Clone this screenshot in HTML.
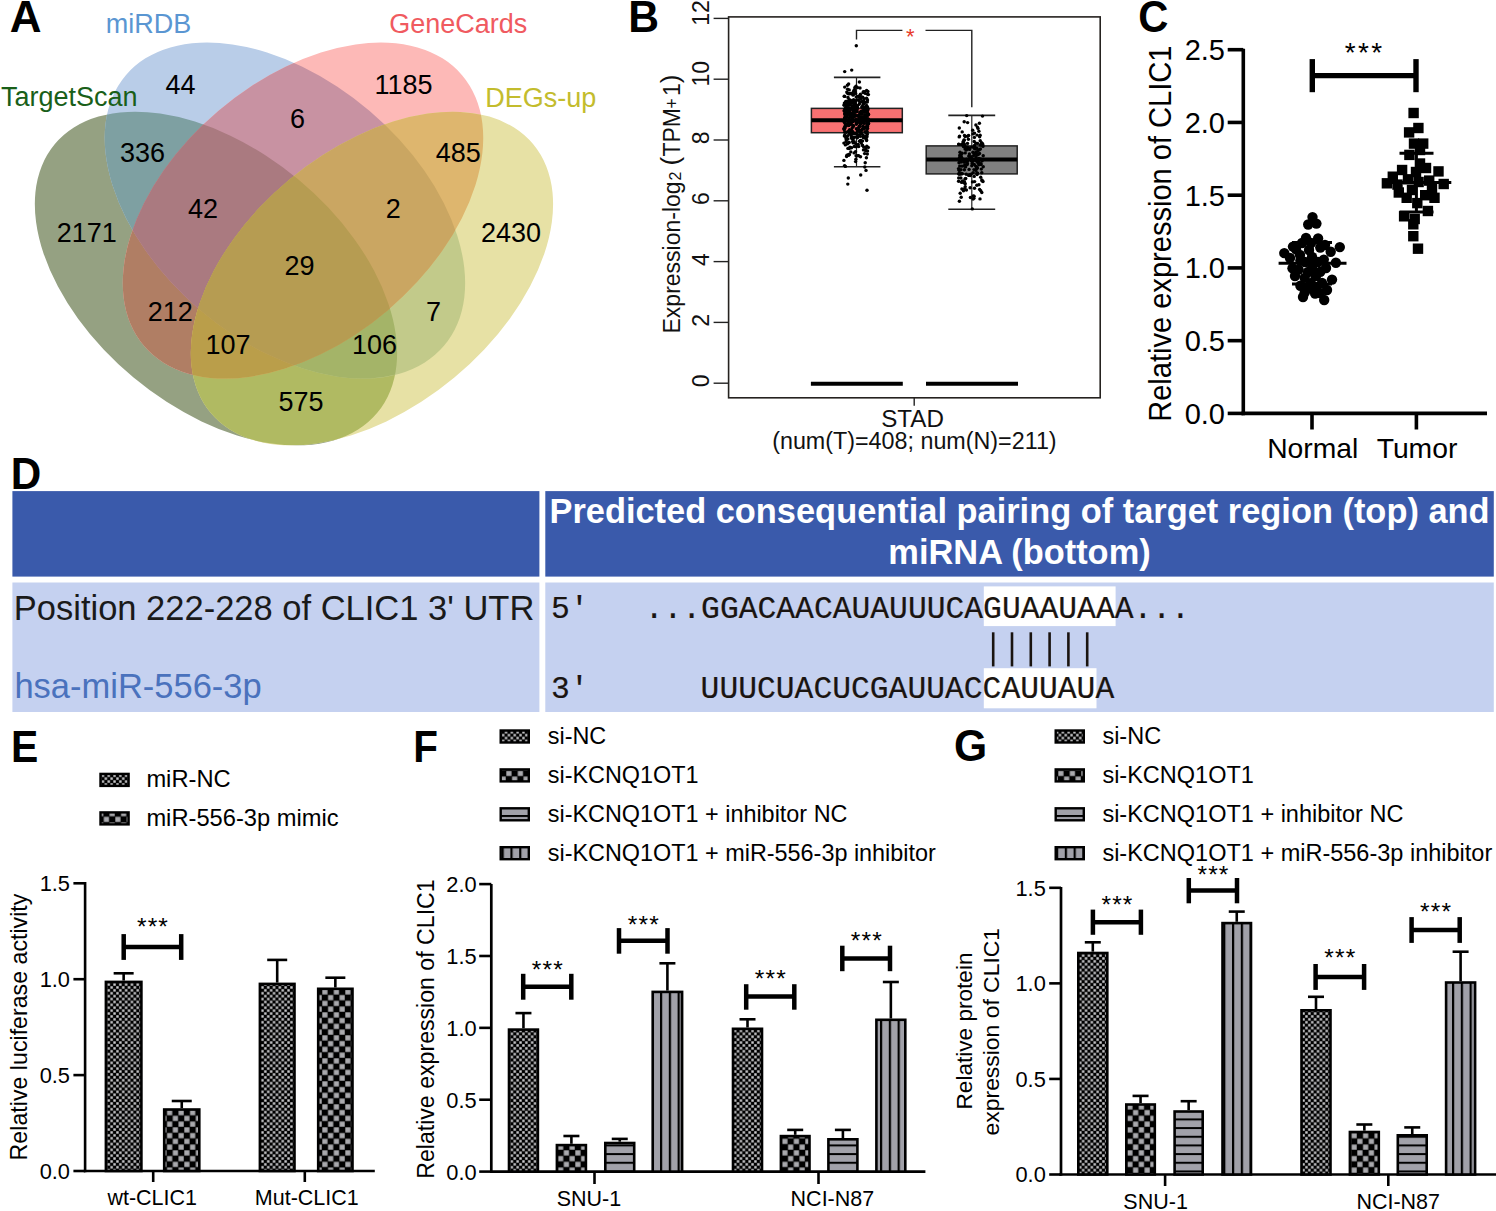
<!DOCTYPE html>
<html><head><meta charset="utf-8"><title>Figure</title>
<style>
html,body{margin:0;padding:0;background:#fff;}
svg{display:block;}
text{font-family:"Liberation Sans",sans-serif;}
</style></head><body>
<svg width="1496" height="1211" viewBox="0 0 1496 1211">
<defs>
<pattern id="pfine" patternUnits="userSpaceOnUse" width="5.8" height="5.8">
<rect width="5.8" height="5.8" fill="#000"/><rect x="0.25" y="0.25" width="2.4" height="2.4" fill="#cfcfd2"/><rect x="3.15" y="3.15" width="2.4" height="2.4" fill="#cfcfd2"/></pattern>
<pattern id="pcheck" patternUnits="userSpaceOnUse" width="11.5" height="11.5">
<rect width="11.5" height="11.5" fill="#000"/><rect x="0.3" y="0.3" width="5.2" height="5.2" fill="#a9a9ad"/><rect x="6.05" y="6.05" width="5.2" height="5.2" fill="#a9a9ad"/></pattern>
<pattern id="phstripe" patternUnits="userSpaceOnUse" width="10" height="8.67">
<rect width="10" height="8.67" fill="#a1a1a9"/><rect y="0" width="10" height="2.0" fill="#000"/></pattern>
<pattern id="pvstripe" patternUnits="userSpaceOnUse" width="8.8" height="10">
<rect width="8.8" height="10" fill="#a1a1a9"/><rect x="0" width="2.2" height="10" fill="#000"/></pattern>
</defs>
<defs><clipPath id="cA"><ellipse cx="215.97" cy="278.54" rx="209.85" ry="128.86" transform="rotate(39.77 215.97 278.54)"/></clipPath><clipPath id="cB"><ellipse cx="284.92" cy="210.53" rx="208.84" ry="130.79" transform="rotate(40.39 284.92 210.53)"/></clipPath><clipPath id="cC"><ellipse cx="303.00" cy="210.53" rx="208.84" ry="130.79" transform="rotate(-40.39 303.00 210.53)"/></clipPath><clipPath id="cD"><ellipse cx="371.95" cy="278.54" rx="209.85" ry="128.86" transform="rotate(-39.77 371.95 278.54)"/></clipPath></defs>
<rect width="1496" height="1211" fill="#fff"/>
<text transform="translate(9.72 31.90) scale(1.0 1)" font-size="44" font-weight="bold">A</text>
<text transform="translate(628.24 31.90) scale(0.97 1)" font-size="44" font-weight="bold">B</text>
<text transform="translate(1138.23 31.90) scale(0.95 1)" font-size="44" font-weight="bold">C</text>
<text transform="translate(10.67 488.70) scale(0.96 1)" font-size="44" font-weight="bold">D</text>
<text transform="translate(10.94 761.70) scale(0.93 1)" font-size="44" font-weight="bold">E</text>
<text transform="translate(413.37 761.70) scale(0.92 1)" font-size="44" font-weight="bold">F</text>
<text transform="translate(953.89 761.40) scale(0.97 1)" font-size="44" font-weight="bold">G</text>
<ellipse cx="215.97" cy="278.54" rx="209.85" ry="128.86" transform="rotate(39.77 215.97 278.54)" fill="rgb(149,161,130)"/>
<ellipse cx="284.92" cy="210.53" rx="208.84" ry="130.79" transform="rotate(40.39 284.92 210.53)" fill="rgb(185,205,232)"/>
<ellipse cx="303.00" cy="210.53" rx="208.84" ry="130.79" transform="rotate(-40.39 303.00 210.53)" fill="rgb(253,185,183)"/>
<ellipse cx="371.95" cy="278.54" rx="209.85" ry="128.86" transform="rotate(-39.77 371.95 278.54)" fill="rgb(231,225,165)"/>
<g clip-path="url(#cA)"><rect x="30" y="40" width="530" height="410" fill="rgb(126,160,162)" clip-path="url(#cB)"/></g>
<g clip-path="url(#cA)"><rect x="30" y="40" width="530" height="410" fill="rgb(176,126,100)" clip-path="url(#cC)"/></g>
<g clip-path="url(#cA)"><rect x="30" y="40" width="530" height="410" fill="rgb(176,186,98)" clip-path="url(#cD)"/></g>
<g clip-path="url(#cB)"><rect x="30" y="40" width="530" height="410" fill="rgb(200,146,162)" clip-path="url(#cC)"/></g>
<g clip-path="url(#cB)"><rect x="30" y="40" width="530" height="410" fill="rgb(194,202,138)" clip-path="url(#cD)"/></g>
<g clip-path="url(#cC)"><rect x="30" y="40" width="530" height="410" fill="rgb(222,182,110)" clip-path="url(#cD)"/></g>
<g clip-path="url(#cA)"><g clip-path="url(#cB)"><rect x="30" y="40" width="530" height="410" fill="rgb(170,122,128)" clip-path="url(#cC)"/></g></g>
<g clip-path="url(#cA)"><g clip-path="url(#cB)"><rect x="30" y="40" width="530" height="410" fill="rgb(164,180,104)" clip-path="url(#cD)"/></g></g>
<g clip-path="url(#cA)"><g clip-path="url(#cC)"><rect x="30" y="40" width="530" height="410" fill="rgb(186,158,74)" clip-path="url(#cD)"/></g></g>
<g clip-path="url(#cB)"><g clip-path="url(#cC)"><rect x="30" y="40" width="530" height="410" fill="rgb(202,166,98)" clip-path="url(#cD)"/></g></g>
<g clip-path="url(#cA)"><g clip-path="url(#cB)"><g clip-path="url(#cC)"><rect x="30" y="40" width="530" height="410" fill="rgb(182,156,82)" clip-path="url(#cD)"/></g></g></g>
<text x="180.5" y="93.8" font-size="27" text-anchor="middle" fill="#000" >44</text>
<text x="403.5" y="93.8" font-size="27" text-anchor="middle" fill="#000" >1185</text>
<text x="297.5" y="128.0" font-size="27" text-anchor="middle" fill="#000" >6</text>
<text x="142.5" y="162.2" font-size="27" text-anchor="middle" fill="#000" >336</text>
<text x="458.2" y="162.2" font-size="27" text-anchor="middle" fill="#000" >485</text>
<text x="202.9" y="218.0" font-size="27" text-anchor="middle" fill="#000" >42</text>
<text x="393.2" y="218.0" font-size="27" text-anchor="middle" fill="#000" >2</text>
<text x="86.7" y="242.0" font-size="27" text-anchor="middle" fill="#000" >2171</text>
<text x="511.0" y="242.0" font-size="27" text-anchor="middle" fill="#000" >2430</text>
<text x="299.4" y="275.0" font-size="27" text-anchor="middle" fill="#000" >29</text>
<text x="170.3" y="320.6" font-size="27" text-anchor="middle" fill="#000" >212</text>
<text x="433.5" y="320.6" font-size="27" text-anchor="middle" fill="#000" >7</text>
<text x="228.0" y="354.0" font-size="27" text-anchor="middle" fill="#000" >107</text>
<text x="374.6" y="354.0" font-size="27" text-anchor="middle" fill="#000" >106</text>
<text x="301.0" y="411.0" font-size="27" text-anchor="middle" fill="#000" >575</text>
<text x="105.8" y="33.0" font-size="27" text-anchor="start" fill="rgb(90,150,210)" >miRDB</text>
<text x="389.2" y="33.3" font-size="27" text-anchor="start" fill="rgb(240,90,96)" >GeneCards</text>
<text x="1.0" y="106.0" font-size="27" text-anchor="start" fill="rgb(25,95,25)" >TargetScan</text>
<text x="485.3" y="106.5" font-size="27" text-anchor="start" fill="rgb(195,188,45)" >DEGs-up</text>
<rect x="728.60" y="16.90" width="371.60" height="380.90" fill="none" stroke="#25221f" stroke-width="1.6" />
<line x1="713.60" y1="383.20" x2="728.60" y2="383.20" stroke="#222" stroke-width="1.4" stroke-linecap="butt"/>
<text transform="translate(709.0 380.8) rotate(-90)" font-size="23" text-anchor="middle" fill="#111">0</text>
<line x1="713.60" y1="322.40" x2="728.60" y2="322.40" stroke="#222" stroke-width="1.4" stroke-linecap="butt"/>
<text transform="translate(709.0 320.4) rotate(-90)" font-size="23" text-anchor="middle" fill="#111">2</text>
<line x1="713.60" y1="261.60" x2="728.60" y2="261.60" stroke="#222" stroke-width="1.4" stroke-linecap="butt"/>
<text transform="translate(709.0 259.7) rotate(-90)" font-size="23" text-anchor="middle" fill="#111">4</text>
<line x1="713.60" y1="200.80" x2="728.60" y2="200.80" stroke="#222" stroke-width="1.4" stroke-linecap="butt"/>
<text transform="translate(709.0 198.6) rotate(-90)" font-size="23" text-anchor="middle" fill="#111">6</text>
<line x1="713.60" y1="140.00" x2="728.60" y2="140.00" stroke="#222" stroke-width="1.4" stroke-linecap="butt"/>
<text transform="translate(709.0 137.9) rotate(-90)" font-size="23" text-anchor="middle" fill="#111">8</text>
<line x1="713.60" y1="79.20" x2="728.60" y2="79.20" stroke="#222" stroke-width="1.4" stroke-linecap="butt"/>
<text transform="translate(709.0 73.7) rotate(-90)" font-size="23" text-anchor="middle" fill="#111">10</text>
<line x1="713.60" y1="18.40" x2="728.60" y2="18.40" stroke="#222" stroke-width="1.4" stroke-linecap="butt"/>
<text transform="translate(709.0 13.0) rotate(-90)" font-size="23" text-anchor="middle" fill="#111">12</text>
<text transform="translate(680.3 333.5) rotate(-90)" font-size="23" fill="#111">Expression-log</text>
<text transform="translate(680.8 180.6) rotate(-90)" font-size="16" fill="#111">2</text>
<text transform="translate(679.0 165.5) rotate(-90)" font-size="26" fill="#111">(</text>
<text transform="translate(680.3 156.6) rotate(-90)" font-size="23" fill="#111">TPM</text>
<text transform="translate(677.6 108.6) rotate(-90)" font-size="17.5" fill="#111">+</text>
<text transform="translate(680.3 96.0) rotate(-90)" font-size="23" fill="#111">1</text>
<text transform="translate(679.0 83.3) rotate(-90)" font-size="26" fill="#111">)</text>
<line x1="914.20" y1="397.80" x2="914.20" y2="405.80" stroke="#222" stroke-width="1.4" stroke-linecap="butt"/>
<text x="912.6" y="427.0" font-size="24.2" text-anchor="middle" fill="#111" >STAD</text>
<text x="914.4" y="449.2" font-size="23.3" text-anchor="middle" fill="#111" >(num(T)=408; num(N)=211)</text>
<line x1="856.50" y1="77.38" x2="856.50" y2="166.75" stroke="#222" stroke-width="1.2" stroke-linecap="butt"/>
<line x1="833.90" y1="77.38" x2="880.40" y2="77.38" stroke="#222" stroke-width="1.6" stroke-linecap="butt"/>
<line x1="833.90" y1="166.75" x2="880.40" y2="166.75" stroke="#222" stroke-width="1.6" stroke-linecap="butt"/>
<rect x="811.40" y="108.38" width="90.90" height="24.32" fill="#f87172" stroke="#222" stroke-width="1.5" />
<line x1="811.40" y1="120.24" x2="902.30" y2="120.24" stroke="#000" stroke-width="4" stroke-linecap="butt"/>
<line x1="971.80" y1="115.38" x2="971.80" y2="209.31" stroke="#222" stroke-width="1.2" stroke-linecap="butt"/>
<line x1="948.30" y1="115.38" x2="995.20" y2="115.38" stroke="#222" stroke-width="1.6" stroke-linecap="butt"/>
<line x1="948.30" y1="209.31" x2="995.20" y2="209.31" stroke="#222" stroke-width="1.6" stroke-linecap="butt"/>
<rect x="926.20" y="145.90" width="91.00" height="28.00" fill="#808080" stroke="#222" stroke-width="1.5" />
<line x1="926.20" y1="159.61" x2="1017.20" y2="159.61" stroke="#000" stroke-width="4" stroke-linecap="butt"/>
<line x1="810.90" y1="383.70" x2="902.80" y2="383.70" stroke="#000" stroke-width="4" stroke-linecap="butt"/>
<line x1="926.00" y1="383.70" x2="1018.00" y2="383.70" stroke="#000" stroke-width="4" stroke-linecap="butt"/>
<polyline points="856.5,39.5 856.5,30.4 902.4,30.4" fill="none" stroke="#222" stroke-width="1.4"/>
<polyline points="925.5,30.4 971.8,30.4 971.8,107.2" fill="none" stroke="#222" stroke-width="1.4"/>
<text x="910.2" y="43.5" font-size="22" text-anchor="middle" fill="#e8392a" >*</text>
<g fill="#000"><circle cx="867.8" cy="124.8" r="1.72"/><circle cx="846.9" cy="111.0" r="1.72"/><circle cx="856.3" cy="124.3" r="1.72"/><circle cx="859.4" cy="125.9" r="1.72"/><circle cx="865.2" cy="137.0" r="1.72"/><circle cx="849.2" cy="124.1" r="1.72"/><circle cx="850.5" cy="100.2" r="1.72"/><circle cx="850.0" cy="112.6" r="1.72"/><circle cx="853.7" cy="101.6" r="1.72"/><circle cx="854.9" cy="115.8" r="1.72"/><circle cx="867.5" cy="113.1" r="1.72"/><circle cx="864.8" cy="116.9" r="1.72"/><circle cx="865.4" cy="150.3" r="1.72"/><circle cx="844.3" cy="104.8" r="1.72"/><circle cx="844.6" cy="111.1" r="1.72"/><circle cx="861.4" cy="111.3" r="1.72"/><circle cx="866.0" cy="150.7" r="1.72"/><circle cx="855.5" cy="151.7" r="1.72"/><circle cx="858.4" cy="136.3" r="1.72"/><circle cx="843.8" cy="128.7" r="1.72"/><circle cx="853.5" cy="114.7" r="1.72"/><circle cx="866.8" cy="121.1" r="1.72"/><circle cx="864.3" cy="110.9" r="1.72"/><circle cx="865.0" cy="131.8" r="1.72"/><circle cx="867.9" cy="114.7" r="1.72"/><circle cx="850.0" cy="113.1" r="1.72"/><circle cx="846.5" cy="132.2" r="1.72"/><circle cx="847.6" cy="89.3" r="1.72"/><circle cx="856.8" cy="110.2" r="1.72"/><circle cx="860.7" cy="98.7" r="1.72"/><circle cx="867.1" cy="131.4" r="1.72"/><circle cx="861.7" cy="133.6" r="1.72"/><circle cx="859.9" cy="126.4" r="1.72"/><circle cx="862.8" cy="122.2" r="1.72"/><circle cx="855.1" cy="108.9" r="1.72"/><circle cx="857.5" cy="115.8" r="1.72"/><circle cx="844.8" cy="128.3" r="1.72"/><circle cx="863.2" cy="137.5" r="1.72"/><circle cx="849.6" cy="129.6" r="1.72"/><circle cx="866.6" cy="98.2" r="1.72"/><circle cx="859.8" cy="134.8" r="1.72"/><circle cx="851.3" cy="115.8" r="1.72"/><circle cx="847.0" cy="112.6" r="1.72"/><circle cx="850.0" cy="147.1" r="1.72"/><circle cx="859.6" cy="119.4" r="1.72"/><circle cx="861.1" cy="96.7" r="1.72"/><circle cx="846.6" cy="156.5" r="1.72"/><circle cx="845.5" cy="126.0" r="1.72"/><circle cx="856.8" cy="122.2" r="1.72"/><circle cx="858.3" cy="135.0" r="1.72"/><circle cx="853.4" cy="111.3" r="1.72"/><circle cx="849.3" cy="121.4" r="1.72"/><circle cx="858.7" cy="146.6" r="1.72"/><circle cx="844.1" cy="105.3" r="1.72"/><circle cx="851.3" cy="108.2" r="1.72"/><circle cx="855.2" cy="103.2" r="1.72"/><circle cx="867.6" cy="94.3" r="1.72"/><circle cx="859.8" cy="113.7" r="1.72"/><circle cx="865.7" cy="118.1" r="1.72"/><circle cx="855.6" cy="143.6" r="1.72"/><circle cx="849.6" cy="109.2" r="1.72"/><circle cx="849.9" cy="131.3" r="1.72"/><circle cx="867.6" cy="128.4" r="1.72"/><circle cx="861.3" cy="143.0" r="1.72"/><circle cx="851.4" cy="137.7" r="1.72"/><circle cx="844.3" cy="129.8" r="1.72"/><circle cx="856.2" cy="97.0" r="1.72"/><circle cx="860.5" cy="156.8" r="1.72"/><circle cx="854.2" cy="146.5" r="1.72"/><circle cx="850.2" cy="115.9" r="1.72"/><circle cx="860.4" cy="94.2" r="1.72"/><circle cx="866.7" cy="109.8" r="1.72"/><circle cx="849.4" cy="154.5" r="1.72"/><circle cx="844.6" cy="165.6" r="1.72"/><circle cx="852.2" cy="113.8" r="1.72"/><circle cx="854.2" cy="133.5" r="1.72"/><circle cx="860.7" cy="140.4" r="1.72"/><circle cx="848.7" cy="102.6" r="1.72"/><circle cx="863.6" cy="100.4" r="1.72"/><circle cx="862.1" cy="117.4" r="1.72"/><circle cx="856.3" cy="115.8" r="1.72"/><circle cx="848.9" cy="112.4" r="1.72"/><circle cx="867.9" cy="91.5" r="1.72"/><circle cx="851.5" cy="109.1" r="1.72"/><circle cx="864.1" cy="110.9" r="1.72"/><circle cx="849.5" cy="110.4" r="1.72"/><circle cx="849.3" cy="148.5" r="1.72"/><circle cx="862.7" cy="97.1" r="1.72"/><circle cx="851.1" cy="103.0" r="1.72"/><circle cx="867.4" cy="110.7" r="1.72"/><circle cx="856.1" cy="155.8" r="1.72"/><circle cx="848.4" cy="131.7" r="1.72"/><circle cx="849.3" cy="105.1" r="1.72"/><circle cx="854.1" cy="152.9" r="1.72"/><circle cx="860.3" cy="123.6" r="1.72"/><circle cx="867.3" cy="101.9" r="1.72"/><circle cx="847.4" cy="143.9" r="1.72"/><circle cx="853.6" cy="91.2" r="1.72"/><circle cx="849.1" cy="110.3" r="1.72"/><circle cx="868.0" cy="122.9" r="1.72"/><circle cx="847.3" cy="114.4" r="1.72"/><circle cx="845.1" cy="108.5" r="1.72"/><circle cx="845.3" cy="118.1" r="1.72"/><circle cx="853.6" cy="99.6" r="1.72"/><circle cx="866.1" cy="132.2" r="1.72"/><circle cx="865.7" cy="127.7" r="1.72"/><circle cx="862.0" cy="101.5" r="1.72"/><circle cx="868.5" cy="119.8" r="1.72"/><circle cx="866.9" cy="136.1" r="1.72"/><circle cx="852.0" cy="103.2" r="1.72"/><circle cx="848.4" cy="93.8" r="1.72"/><circle cx="867.0" cy="128.3" r="1.72"/><circle cx="862.3" cy="145.1" r="1.72"/><circle cx="844.6" cy="122.7" r="1.72"/><circle cx="860.3" cy="122.9" r="1.72"/><circle cx="853.2" cy="125.6" r="1.72"/><circle cx="853.1" cy="94.9" r="1.72"/><circle cx="852.0" cy="138.7" r="1.72"/><circle cx="848.0" cy="97.5" r="1.72"/><circle cx="843.9" cy="143.1" r="1.72"/><circle cx="850.7" cy="134.4" r="1.72"/><circle cx="852.5" cy="108.9" r="1.72"/><circle cx="867.5" cy="99.9" r="1.72"/><circle cx="846.9" cy="104.8" r="1.72"/><circle cx="867.7" cy="114.0" r="1.72"/><circle cx="848.9" cy="117.7" r="1.72"/><circle cx="852.6" cy="117.5" r="1.72"/><circle cx="864.2" cy="109.9" r="1.72"/><circle cx="864.2" cy="123.4" r="1.72"/><circle cx="854.5" cy="115.2" r="1.72"/><circle cx="845.0" cy="109.9" r="1.72"/><circle cx="855.5" cy="120.2" r="1.72"/><circle cx="853.0" cy="106.5" r="1.72"/><circle cx="866.6" cy="110.0" r="1.72"/><circle cx="848.6" cy="84.0" r="1.72"/><circle cx="852.8" cy="114.4" r="1.72"/><circle cx="866.0" cy="127.9" r="1.72"/><circle cx="844.6" cy="127.0" r="1.72"/><circle cx="854.0" cy="120.5" r="1.72"/><circle cx="863.9" cy="103.6" r="1.72"/><circle cx="862.8" cy="126.3" r="1.72"/><circle cx="844.8" cy="113.3" r="1.72"/><circle cx="844.7" cy="87.1" r="1.72"/><circle cx="845.4" cy="166.4" r="1.72"/><circle cx="866.6" cy="140.5" r="1.72"/><circle cx="850.2" cy="115.8" r="1.72"/><circle cx="862.3" cy="113.1" r="1.72"/><circle cx="866.1" cy="115.9" r="1.72"/><circle cx="852.2" cy="128.0" r="1.72"/><circle cx="850.6" cy="108.4" r="1.72"/><circle cx="867.6" cy="115.2" r="1.72"/><circle cx="859.1" cy="129.6" r="1.72"/><circle cx="850.3" cy="113.8" r="1.72"/><circle cx="861.6" cy="130.2" r="1.72"/><circle cx="851.6" cy="122.0" r="1.72"/><circle cx="850.6" cy="124.3" r="1.72"/><circle cx="843.9" cy="121.4" r="1.72"/><circle cx="862.5" cy="129.0" r="1.72"/><circle cx="866.5" cy="102.1" r="1.72"/><circle cx="859.5" cy="141.3" r="1.72"/><circle cx="867.2" cy="121.4" r="1.72"/><circle cx="844.4" cy="103.1" r="1.72"/><circle cx="849.6" cy="104.8" r="1.72"/><circle cx="855.6" cy="93.4" r="1.72"/><circle cx="867.5" cy="150.9" r="1.72"/><circle cx="867.5" cy="126.6" r="1.72"/><circle cx="853.4" cy="126.4" r="1.72"/><circle cx="850.0" cy="109.0" r="1.72"/><circle cx="854.5" cy="100.6" r="1.72"/><circle cx="856.0" cy="100.6" r="1.72"/><circle cx="866.8" cy="146.3" r="1.72"/><circle cx="848.3" cy="107.9" r="1.72"/><circle cx="863.7" cy="147.1" r="1.72"/><circle cx="862.1" cy="117.1" r="1.72"/><circle cx="864.2" cy="98.7" r="1.72"/><circle cx="863.0" cy="122.9" r="1.72"/><circle cx="858.9" cy="116.8" r="1.72"/><circle cx="851.9" cy="105.9" r="1.72"/><circle cx="851.7" cy="117.7" r="1.72"/><circle cx="852.8" cy="121.8" r="1.72"/><circle cx="863.2" cy="92.6" r="1.72"/><circle cx="845.8" cy="101.4" r="1.72"/><circle cx="848.7" cy="125.5" r="1.72"/><circle cx="862.5" cy="140.9" r="1.72"/><circle cx="849.9" cy="103.8" r="1.72"/><circle cx="845.4" cy="125.0" r="1.72"/><circle cx="844.6" cy="117.9" r="1.72"/><circle cx="857.5" cy="107.5" r="1.72"/><circle cx="851.9" cy="116.2" r="1.72"/><circle cx="868.1" cy="108.7" r="1.72"/><circle cx="865.7" cy="147.8" r="1.72"/><circle cx="868.3" cy="147.4" r="1.72"/><circle cx="850.4" cy="109.2" r="1.72"/><circle cx="845.9" cy="137.6" r="1.72"/><circle cx="846.2" cy="138.7" r="1.72"/><circle cx="856.2" cy="146.7" r="1.72"/><circle cx="861.4" cy="97.4" r="1.72"/><circle cx="854.9" cy="106.8" r="1.72"/><circle cx="849.6" cy="93.7" r="1.72"/><circle cx="854.1" cy="137.1" r="1.72"/><circle cx="859.2" cy="120.2" r="1.72"/><circle cx="860.5" cy="140.8" r="1.72"/><circle cx="862.3" cy="106.4" r="1.72"/><circle cx="864.8" cy="91.6" r="1.72"/><circle cx="860.3" cy="136.3" r="1.72"/><circle cx="846.8" cy="92.1" r="1.72"/><circle cx="864.7" cy="102.4" r="1.72"/><circle cx="851.1" cy="123.4" r="1.72"/><circle cx="857.9" cy="155.8" r="1.72"/><circle cx="853.0" cy="94.9" r="1.72"/><circle cx="862.1" cy="122.0" r="1.72"/><circle cx="848.7" cy="131.1" r="1.72"/><circle cx="849.9" cy="113.0" r="1.72"/><circle cx="849.9" cy="112.9" r="1.72"/><circle cx="847.6" cy="93.3" r="1.72"/><circle cx="865.7" cy="138.6" r="1.72"/><circle cx="858.1" cy="99.8" r="1.72"/><circle cx="851.9" cy="93.4" r="1.72"/><circle cx="853.6" cy="94.1" r="1.72"/><circle cx="868.4" cy="123.5" r="1.72"/><circle cx="856.4" cy="133.6" r="1.72"/><circle cx="849.5" cy="101.9" r="1.72"/><circle cx="863.8" cy="118.2" r="1.72"/><circle cx="860.0" cy="118.0" r="1.72"/><circle cx="868.4" cy="94.6" r="1.72"/><circle cx="846.3" cy="125.0" r="1.72"/><circle cx="855.6" cy="161.6" r="1.72"/><circle cx="864.1" cy="127.2" r="1.72"/><circle cx="864.6" cy="153.6" r="1.72"/><circle cx="866.5" cy="105.5" r="1.72"/><circle cx="844.8" cy="114.5" r="1.72"/><circle cx="851.1" cy="131.3" r="1.72"/><circle cx="846.8" cy="120.4" r="1.72"/><circle cx="848.5" cy="105.2" r="1.72"/><circle cx="867.9" cy="118.8" r="1.72"/><circle cx="858.3" cy="96.3" r="1.72"/><circle cx="866.9" cy="121.3" r="1.72"/><circle cx="853.0" cy="101.5" r="1.72"/><circle cx="865.3" cy="93.4" r="1.72"/><circle cx="854.9" cy="91.2" r="1.72"/><circle cx="850.2" cy="132.3" r="1.72"/><circle cx="863.1" cy="104.4" r="1.72"/><circle cx="867.3" cy="154.0" r="1.72"/><circle cx="846.4" cy="139.8" r="1.72"/><circle cx="858.6" cy="155.6" r="1.72"/><circle cx="859.2" cy="101.0" r="1.72"/><circle cx="849.2" cy="142.4" r="1.72"/><circle cx="852.9" cy="120.5" r="1.72"/><circle cx="847.3" cy="123.7" r="1.72"/><circle cx="848.9" cy="120.8" r="1.72"/><circle cx="850.1" cy="130.9" r="1.72"/><circle cx="858.7" cy="116.0" r="1.72"/><circle cx="860.0" cy="88.0" r="1.72"/><circle cx="848.8" cy="119.4" r="1.72"/><circle cx="844.1" cy="110.7" r="1.72"/><circle cx="851.9" cy="102.2" r="1.72"/><circle cx="860.6" cy="123.8" r="1.72"/><circle cx="848.4" cy="142.9" r="1.72"/><circle cx="851.5" cy="130.2" r="1.72"/><circle cx="848.8" cy="100.9" r="1.72"/><circle cx="863.5" cy="149.9" r="1.72"/><circle cx="857.4" cy="131.0" r="1.72"/><circle cx="845.4" cy="102.1" r="1.72"/><circle cx="846.3" cy="106.0" r="1.72"/><circle cx="853.6" cy="120.1" r="1.72"/><circle cx="857.4" cy="105.7" r="1.72"/><circle cx="859.7" cy="117.2" r="1.72"/><circle cx="846.1" cy="141.5" r="1.72"/><circle cx="847.9" cy="148.4" r="1.72"/><circle cx="861.0" cy="131.8" r="1.72"/><circle cx="854.0" cy="103.6" r="1.72"/><circle cx="850.8" cy="130.4" r="1.72"/><circle cx="851.4" cy="136.5" r="1.72"/><circle cx="867.4" cy="134.1" r="1.72"/><circle cx="851.5" cy="147.8" r="1.72"/><circle cx="857.8" cy="122.4" r="1.72"/><circle cx="852.7" cy="141.5" r="1.72"/><circle cx="854.1" cy="113.7" r="1.72"/><circle cx="865.2" cy="162.8" r="1.72"/><circle cx="868.5" cy="114.3" r="1.72"/><circle cx="852.8" cy="131.8" r="1.72"/><circle cx="848.7" cy="155.2" r="1.72"/><circle cx="861.9" cy="107.2" r="1.72"/><circle cx="848.9" cy="125.2" r="1.72"/><circle cx="843.9" cy="160.4" r="1.72"/><circle cx="866.2" cy="136.0" r="1.72"/><circle cx="854.3" cy="115.0" r="1.72"/><circle cx="864.1" cy="128.5" r="1.72"/><circle cx="853.9" cy="106.2" r="1.72"/><circle cx="865.7" cy="106.8" r="1.72"/><circle cx="855.2" cy="108.2" r="1.72"/><circle cx="847.8" cy="114.4" r="1.72"/><circle cx="844.2" cy="96.2" r="1.72"/><circle cx="857.5" cy="108.4" r="1.72"/><circle cx="859.7" cy="112.1" r="1.72"/><circle cx="866.4" cy="157.8" r="1.72"/><circle cx="846.0" cy="104.1" r="1.72"/><circle cx="859.2" cy="96.7" r="1.72"/><circle cx="853.0" cy="125.6" r="1.72"/><circle cx="856.3" cy="128.7" r="1.72"/><circle cx="847.4" cy="85.3" r="1.72"/><circle cx="850.8" cy="151.9" r="1.72"/><circle cx="856.7" cy="111.8" r="1.72"/><circle cx="866.8" cy="137.0" r="1.72"/><circle cx="846.5" cy="107.8" r="1.72"/><circle cx="856.0" cy="86.3" r="1.72"/><circle cx="863.8" cy="122.4" r="1.72"/><circle cx="867.8" cy="110.1" r="1.72"/><circle cx="848.7" cy="104.0" r="1.72"/><circle cx="846.9" cy="136.6" r="1.72"/><circle cx="867.2" cy="121.8" r="1.72"/><circle cx="868.0" cy="115.0" r="1.72"/><circle cx="855.8" cy="105.4" r="1.72"/><circle cx="845.1" cy="120.9" r="1.72"/><circle cx="866.8" cy="123.8" r="1.72"/><circle cx="853.4" cy="138.5" r="1.72"/><circle cx="866.2" cy="126.7" r="1.72"/><circle cx="859.2" cy="104.2" r="1.72"/><circle cx="864.2" cy="118.4" r="1.72"/><circle cx="847.8" cy="135.6" r="1.72"/><circle cx="863.3" cy="135.4" r="1.72"/><circle cx="849.3" cy="99.7" r="1.72"/><circle cx="853.8" cy="108.8" r="1.72"/><circle cx="864.8" cy="167.0" r="1.72"/><circle cx="864.4" cy="109.0" r="1.72"/><circle cx="848.3" cy="111.6" r="1.72"/><circle cx="849.2" cy="89.9" r="1.72"/><circle cx="853.7" cy="112.5" r="1.72"/><circle cx="856.6" cy="121.5" r="1.72"/><circle cx="853.3" cy="110.8" r="1.72"/><circle cx="846.9" cy="155.3" r="1.72"/><circle cx="849.9" cy="101.6" r="1.72"/><circle cx="861.8" cy="114.4" r="1.72"/><circle cx="866.1" cy="132.9" r="1.72"/><circle cx="844.8" cy="96.4" r="1.72"/><circle cx="857.7" cy="87.6" r="1.72"/><circle cx="862.6" cy="145.5" r="1.72"/><circle cx="844.7" cy="132.2" r="1.72"/><circle cx="864.6" cy="115.0" r="1.72"/><circle cx="846.7" cy="116.9" r="1.72"/><circle cx="858.7" cy="127.4" r="1.72"/><circle cx="857.4" cy="137.8" r="1.72"/><circle cx="859.4" cy="82.0" r="1.72"/><circle cx="851.4" cy="101.6" r="1.72"/><circle cx="854.2" cy="141.8" r="1.72"/><circle cx="858.2" cy="144.5" r="1.72"/><circle cx="854.4" cy="89.6" r="1.72"/><circle cx="860.1" cy="102.4" r="1.72"/><circle cx="854.9" cy="87.4" r="1.72"/><circle cx="854.7" cy="105.6" r="1.72"/><circle cx="844.4" cy="136.0" r="1.72"/><circle cx="859.1" cy="115.5" r="1.72"/><circle cx="855.9" cy="159.2" r="1.72"/><circle cx="849.6" cy="133.7" r="1.72"/><circle cx="862.7" cy="121.3" r="1.72"/><circle cx="863.1" cy="110.8" r="1.72"/><circle cx="855.2" cy="133.3" r="1.72"/><circle cx="848.3" cy="122.5" r="1.72"/><circle cx="855.5" cy="112.0" r="1.72"/><circle cx="846.5" cy="113.5" r="1.72"/><circle cx="847.0" cy="108.7" r="1.72"/><circle cx="854.5" cy="116.5" r="1.72"/><circle cx="846.1" cy="126.1" r="1.72"/><circle cx="854.8" cy="106.0" r="1.72"/><circle cx="856.5" cy="119.4" r="1.72"/><circle cx="844.8" cy="135.1" r="1.72"/><circle cx="859.6" cy="131.5" r="1.72"/><circle cx="845.8" cy="120.2" r="1.72"/><circle cx="862.0" cy="122.2" r="1.72"/><circle cx="863.1" cy="117.4" r="1.72"/><circle cx="856.5" cy="120.2" r="1.72"/><circle cx="845.1" cy="117.1" r="1.72"/><circle cx="856.3" cy="122.7" r="1.72"/><circle cx="853.2" cy="142.9" r="1.72"/><circle cx="867.4" cy="112.6" r="1.72"/><circle cx="847.2" cy="101.3" r="1.72"/><circle cx="865.1" cy="112.4" r="1.72"/><circle cx="868.5" cy="123.6" r="1.72"/><circle cx="862.0" cy="112.2" r="1.72"/><circle cx="864.0" cy="137.6" r="1.72"/><circle cx="848.6" cy="154.4" r="1.72"/><circle cx="868.1" cy="119.2" r="1.72"/><circle cx="856.0" cy="137.0" r="1.72"/><circle cx="867.5" cy="106.9" r="1.72"/><circle cx="866.5" cy="139.8" r="1.72"/><circle cx="847.9" cy="139.0" r="1.72"/><circle cx="863.4" cy="91.8" r="1.72"/><circle cx="866.9" cy="127.1" r="1.72"/><circle cx="845.4" cy="144.9" r="1.72"/><circle cx="852.5" cy="134.0" r="1.72"/><circle cx="862.6" cy="110.9" r="1.72"/><circle cx="847.7" cy="111.3" r="1.72"/><circle cx="866.0" cy="117.1" r="1.72"/><circle cx="850.6" cy="93.5" r="1.72"/><circle cx="864.0" cy="107.5" r="1.72"/><circle cx="847.4" cy="120.6" r="1.72"/><circle cx="856.3" cy="109.5" r="1.72"/><circle cx="866.6" cy="90.4" r="1.72"/><circle cx="849.0" cy="102.7" r="1.72"/><circle cx="850.3" cy="101.8" r="1.72"/><circle cx="856.3" cy="45.8" r="1.72"/><circle cx="851.7" cy="70.1" r="1.72"/><circle cx="844.7" cy="71.6" r="1.72"/><circle cx="848.3" cy="178.0" r="1.72"/><circle cx="847.8" cy="184.1" r="1.72"/><circle cx="867.0" cy="190.2" r="1.72"/><circle cx="860.7" cy="175.0" r="1.72"/><circle cx="866.0" cy="170.4" r="1.72"/><circle cx="962.8" cy="182.1" r="1.72"/><circle cx="978.1" cy="162.7" r="1.72"/><circle cx="961.5" cy="144.5" r="1.72"/><circle cx="971.8" cy="165.8" r="1.72"/><circle cx="974.4" cy="137.4" r="1.72"/><circle cx="967.5" cy="147.2" r="1.72"/><circle cx="980.2" cy="140.8" r="1.72"/><circle cx="972.4" cy="164.0" r="1.72"/><circle cx="973.0" cy="133.9" r="1.72"/><circle cx="980.5" cy="164.1" r="1.72"/><circle cx="961.2" cy="157.7" r="1.72"/><circle cx="983.2" cy="166.7" r="1.72"/><circle cx="974.2" cy="141.5" r="1.72"/><circle cx="968.4" cy="139.3" r="1.72"/><circle cx="978.4" cy="159.5" r="1.72"/><circle cx="965.2" cy="183.8" r="1.72"/><circle cx="983.2" cy="155.7" r="1.72"/><circle cx="972.9" cy="152.2" r="1.72"/><circle cx="967.5" cy="136.2" r="1.72"/><circle cx="977.6" cy="143.4" r="1.72"/><circle cx="969.6" cy="159.1" r="1.72"/><circle cx="963.0" cy="141.9" r="1.72"/><circle cx="977.0" cy="148.4" r="1.72"/><circle cx="959.8" cy="155.3" r="1.72"/><circle cx="978.9" cy="158.5" r="1.72"/><circle cx="964.9" cy="164.7" r="1.72"/><circle cx="974.5" cy="145.4" r="1.72"/><circle cx="983.0" cy="181.5" r="1.72"/><circle cx="973.1" cy="172.6" r="1.72"/><circle cx="975.1" cy="159.5" r="1.72"/><circle cx="966.4" cy="190.0" r="1.72"/><circle cx="958.6" cy="168.6" r="1.72"/><circle cx="959.4" cy="201.3" r="1.72"/><circle cx="962.3" cy="173.8" r="1.72"/><circle cx="973.9" cy="147.8" r="1.72"/><circle cx="969.3" cy="147.9" r="1.72"/><circle cx="971.3" cy="160.7" r="1.72"/><circle cx="980.8" cy="164.4" r="1.72"/><circle cx="961.9" cy="189.0" r="1.72"/><circle cx="964.2" cy="121.7" r="1.72"/><circle cx="974.8" cy="148.9" r="1.72"/><circle cx="959.2" cy="136.9" r="1.72"/><circle cx="958.7" cy="177.9" r="1.72"/><circle cx="967.4" cy="163.4" r="1.72"/><circle cx="961.2" cy="197.3" r="1.72"/><circle cx="967.5" cy="143.4" r="1.72"/><circle cx="964.2" cy="140.2" r="1.72"/><circle cx="973.1" cy="199.0" r="1.72"/><circle cx="973.2" cy="160.7" r="1.72"/><circle cx="963.7" cy="146.5" r="1.72"/><circle cx="974.1" cy="196.2" r="1.72"/><circle cx="970.4" cy="197.5" r="1.72"/><circle cx="961.9" cy="181.7" r="1.72"/><circle cx="981.8" cy="172.7" r="1.72"/><circle cx="964.6" cy="188.7" r="1.72"/><circle cx="962.3" cy="159.0" r="1.72"/><circle cx="961.0" cy="154.4" r="1.72"/><circle cx="974.4" cy="146.5" r="1.72"/><circle cx="980.2" cy="145.0" r="1.72"/><circle cx="978.0" cy="128.4" r="1.72"/><circle cx="968.6" cy="135.5" r="1.72"/><circle cx="965.2" cy="186.8" r="1.72"/><circle cx="958.9" cy="170.1" r="1.72"/><circle cx="974.6" cy="181.6" r="1.72"/><circle cx="972.5" cy="181.9" r="1.72"/><circle cx="967.3" cy="161.3" r="1.72"/><circle cx="974.6" cy="159.5" r="1.72"/><circle cx="969.6" cy="149.4" r="1.72"/><circle cx="981.8" cy="192.5" r="1.72"/><circle cx="976.8" cy="185.3" r="1.72"/><circle cx="964.8" cy="160.1" r="1.72"/><circle cx="981.0" cy="163.7" r="1.72"/><circle cx="959.7" cy="166.1" r="1.72"/><circle cx="971.8" cy="160.9" r="1.72"/><circle cx="968.7" cy="175.4" r="1.72"/><circle cx="964.5" cy="145.1" r="1.72"/><circle cx="960.0" cy="152.3" r="1.72"/><circle cx="977.9" cy="161.4" r="1.72"/><circle cx="958.9" cy="173.5" r="1.72"/><circle cx="972.3" cy="163.2" r="1.72"/><circle cx="981.9" cy="180.0" r="1.72"/><circle cx="962.1" cy="158.8" r="1.72"/><circle cx="963.5" cy="190.8" r="1.72"/><circle cx="973.7" cy="155.5" r="1.72"/><circle cx="971.2" cy="156.6" r="1.72"/><circle cx="974.5" cy="188.2" r="1.72"/><circle cx="978.8" cy="164.8" r="1.72"/><circle cx="962.9" cy="166.1" r="1.72"/><circle cx="966.3" cy="150.1" r="1.72"/><circle cx="966.0" cy="146.9" r="1.72"/><circle cx="959.8" cy="160.4" r="1.72"/><circle cx="980.7" cy="177.3" r="1.72"/><circle cx="978.0" cy="162.6" r="1.72"/><circle cx="976.3" cy="161.0" r="1.72"/><circle cx="958.8" cy="144.4" r="1.72"/><circle cx="979.5" cy="153.5" r="1.72"/><circle cx="977.1" cy="174.6" r="1.72"/><circle cx="970.1" cy="187.7" r="1.72"/><circle cx="977.0" cy="167.3" r="1.72"/><circle cx="969.8" cy="175.0" r="1.72"/><circle cx="964.2" cy="182.7" r="1.72"/><circle cx="961.2" cy="162.0" r="1.72"/><circle cx="964.4" cy="169.8" r="1.72"/><circle cx="959.6" cy="157.4" r="1.72"/><circle cx="966.9" cy="148.8" r="1.72"/><circle cx="977.2" cy="168.2" r="1.72"/><circle cx="975.8" cy="166.3" r="1.72"/><circle cx="979.6" cy="136.8" r="1.72"/><circle cx="976.2" cy="157.1" r="1.72"/><circle cx="965.2" cy="136.5" r="1.72"/><circle cx="972.3" cy="208.9" r="1.72"/><circle cx="969.4" cy="175.2" r="1.72"/><circle cx="978.2" cy="154.5" r="1.72"/><circle cx="971.6" cy="147.1" r="1.72"/><circle cx="965.2" cy="152.9" r="1.72"/><circle cx="974.5" cy="133.1" r="1.72"/><circle cx="982.5" cy="143.7" r="1.72"/><circle cx="964.0" cy="140.0" r="1.72"/><circle cx="980.4" cy="149.0" r="1.72"/><circle cx="959.0" cy="162.8" r="1.72"/><circle cx="965.1" cy="149.0" r="1.72"/><circle cx="964.5" cy="182.0" r="1.72"/><circle cx="977.0" cy="135.1" r="1.72"/><circle cx="982.0" cy="180.7" r="1.72"/><circle cx="977.1" cy="154.4" r="1.72"/><circle cx="966.7" cy="115.6" r="1.72"/><circle cx="980.4" cy="164.2" r="1.72"/><circle cx="966.7" cy="159.2" r="1.72"/><circle cx="964.5" cy="135.5" r="1.72"/><circle cx="981.1" cy="159.1" r="1.72"/><circle cx="974.2" cy="176.4" r="1.72"/><circle cx="975.8" cy="154.3" r="1.72"/><circle cx="975.1" cy="147.5" r="1.72"/><circle cx="982.9" cy="144.9" r="1.72"/><circle cx="970.2" cy="175.6" r="1.72"/><circle cx="979.4" cy="123.3" r="1.72"/><circle cx="975.9" cy="125.0" r="1.72"/><circle cx="979.9" cy="159.2" r="1.72"/><circle cx="969.4" cy="154.0" r="1.72"/><circle cx="976.6" cy="168.5" r="1.72"/><circle cx="972.7" cy="130.3" r="1.72"/><circle cx="966.2" cy="174.2" r="1.72"/><circle cx="963.9" cy="145.6" r="1.72"/><circle cx="974.0" cy="169.6" r="1.72"/><circle cx="960.5" cy="174.0" r="1.72"/><circle cx="981.2" cy="144.7" r="1.72"/><circle cx="962.2" cy="131.9" r="1.72"/><circle cx="959.3" cy="159.8" r="1.72"/><circle cx="961.2" cy="173.7" r="1.72"/><circle cx="981.6" cy="142.8" r="1.72"/><circle cx="967.2" cy="160.6" r="1.72"/><circle cx="962.1" cy="153.2" r="1.72"/><circle cx="959.3" cy="128.0" r="1.72"/><circle cx="959.6" cy="136.1" r="1.72"/><circle cx="975.8" cy="170.4" r="1.72"/><circle cx="974.3" cy="159.5" r="1.72"/><circle cx="975.9" cy="143.3" r="1.72"/><circle cx="976.9" cy="173.0" r="1.72"/><circle cx="960.2" cy="160.5" r="1.72"/><circle cx="973.2" cy="195.9" r="1.72"/><circle cx="967.6" cy="122.6" r="1.72"/><circle cx="978.9" cy="131.3" r="1.72"/><circle cx="978.9" cy="184.8" r="1.72"/><circle cx="980.7" cy="190.8" r="1.72"/><circle cx="960.2" cy="193.2" r="1.72"/><circle cx="980.1" cy="135.2" r="1.72"/><circle cx="981.3" cy="169.1" r="1.72"/><circle cx="982.0" cy="160.9" r="1.72"/><circle cx="961.3" cy="166.1" r="1.72"/><circle cx="963.7" cy="162.1" r="1.72"/><circle cx="961.4" cy="182.2" r="1.72"/><circle cx="959.5" cy="159.1" r="1.72"/><circle cx="979.6" cy="189.4" r="1.72"/><circle cx="978.7" cy="161.1" r="1.72"/><circle cx="974.3" cy="153.2" r="1.72"/><circle cx="979.1" cy="149.9" r="1.72"/><circle cx="974.3" cy="164.4" r="1.72"/><circle cx="965.7" cy="178.4" r="1.72"/><circle cx="961.1" cy="156.3" r="1.72"/><circle cx="961.0" cy="169.7" r="1.72"/><circle cx="977.4" cy="127.1" r="1.72"/><circle cx="963.7" cy="143.7" r="1.72"/><circle cx="966.5" cy="162.0" r="1.72"/><circle cx="969.1" cy="169.4" r="1.72"/><circle cx="959.1" cy="174.2" r="1.72"/><circle cx="965.0" cy="179.0" r="1.72"/><circle cx="965.6" cy="166.9" r="1.72"/><circle cx="976.4" cy="153.5" r="1.72"/><circle cx="967.7" cy="148.9" r="1.72"/><circle cx="966.6" cy="147.8" r="1.72"/><circle cx="982.5" cy="116.1" r="1.72"/><circle cx="971.1" cy="174.2" r="1.72"/><circle cx="979.7" cy="159.3" r="1.72"/><circle cx="973.9" cy="198.3" r="1.72"/><circle cx="959.4" cy="170.4" r="1.72"/><circle cx="968.8" cy="156.1" r="1.72"/><circle cx="969.4" cy="156.4" r="1.72"/><circle cx="977.8" cy="151.1" r="1.72"/><circle cx="967.2" cy="164.6" r="1.72"/><circle cx="976.1" cy="152.0" r="1.72"/><circle cx="971.9" cy="158.5" r="1.72"/><circle cx="964.0" cy="143.6" r="1.72"/><circle cx="980.0" cy="198.9" r="1.72"/><circle cx="960.9" cy="178.0" r="1.72"/><circle cx="978.9" cy="159.7" r="1.72"/><circle cx="962.8" cy="181.0" r="1.72"/><circle cx="958.6" cy="181.3" r="1.72"/><circle cx="963.6" cy="146.6" r="1.72"/><circle cx="977.5" cy="173.1" r="1.72"/><circle cx="982.9" cy="146.4" r="1.72"/><circle cx="958.7" cy="144.1" r="1.72"/></g>
<line x1="1243.30" y1="48.70" x2="1243.30" y2="415.20" stroke="#000" stroke-width="3.6" stroke-linecap="butt"/>
<line x1="1241.50" y1="413.40" x2="1487.00" y2="413.40" stroke="#000" stroke-width="3.6" stroke-linecap="butt"/>
<line x1="1227.70" y1="413.40" x2="1243.30" y2="413.40" stroke="#000" stroke-width="3.6" stroke-linecap="butt"/>
<text x="1225.0" y="423.7" font-size="29" text-anchor="end" fill="#000" >0.0</text>
<line x1="1227.70" y1="340.66" x2="1243.30" y2="340.66" stroke="#000" stroke-width="3.6" stroke-linecap="butt"/>
<text x="1225.0" y="351.0" font-size="29" text-anchor="end" fill="#000" >0.5</text>
<line x1="1227.70" y1="267.92" x2="1243.30" y2="267.92" stroke="#000" stroke-width="3.6" stroke-linecap="butt"/>
<text x="1225.0" y="278.2" font-size="29" text-anchor="end" fill="#000" >1.0</text>
<line x1="1227.70" y1="195.18" x2="1243.30" y2="195.18" stroke="#000" stroke-width="3.6" stroke-linecap="butt"/>
<text x="1225.0" y="205.5" font-size="29" text-anchor="end" fill="#000" >1.5</text>
<line x1="1227.70" y1="122.44" x2="1243.30" y2="122.44" stroke="#000" stroke-width="3.6" stroke-linecap="butt"/>
<text x="1225.0" y="132.7" font-size="29" text-anchor="end" fill="#000" >2.0</text>
<line x1="1227.70" y1="49.70" x2="1243.30" y2="49.70" stroke="#000" stroke-width="3.6" stroke-linecap="butt"/>
<text x="1225.0" y="60.0" font-size="29" text-anchor="end" fill="#000" >2.5</text>
<line x1="1312.00" y1="413.40" x2="1312.00" y2="429.50" stroke="#000" stroke-width="3.6" stroke-linecap="butt"/>
<line x1="1416.40" y1="413.40" x2="1416.40" y2="429.50" stroke="#000" stroke-width="3.6" stroke-linecap="butt"/>
<text x="1312.8" y="458.3" font-size="28.3" text-anchor="middle" fill="#000" >Normal</text>
<text x="1417.0" y="458.3" font-size="28.3" text-anchor="middle" fill="#000" >Tumor</text>
<text transform="translate(1170.7 233.7) rotate(-90) scale(0.953 1)" font-size="30.5" text-anchor="middle">Relative expression of CLIC1</text>
<line x1="1312.30" y1="75.60" x2="1416.00" y2="75.60" stroke="#000" stroke-width="5.2" stroke-linecap="butt"/>
<line x1="1312.30" y1="59.10" x2="1312.30" y2="92.20" stroke="#000" stroke-width="5.4" stroke-linecap="butt"/>
<line x1="1416.00" y1="59.10" x2="1416.00" y2="92.20" stroke="#000" stroke-width="5.4" stroke-linecap="butt"/>
<text x="1364.7" y="61.5" font-size="28" text-anchor="middle" fill="#000" letter-spacing="2.4">***</text>
<g fill="#000"><circle cx="1312.5" cy="217.1" r="5.2"/><circle cx="1308.2" cy="224.5" r="5.2"/><circle cx="1316.4" cy="223.6" r="5.2"/><circle cx="1306.0" cy="238.0" r="5.2"/><circle cx="1318.1" cy="238.4" r="5.2"/><circle cx="1293.0" cy="246.6" r="5.2"/><circle cx="1284.3" cy="253.1" r="5.2"/><circle cx="1296.0" cy="249.2" r="5.2"/><circle cx="1339.8" cy="247.1" r="5.2"/><circle cx="1330.7" cy="251.8" r="5.2"/><circle cx="1309.0" cy="250.0" r="5.2"/><circle cx="1320.3" cy="247.5" r="5.2"/><circle cx="1300.4" cy="260.5" r="5.2"/><circle cx="1335.9" cy="262.7" r="5.2"/><circle cx="1323.8" cy="259.6" r="5.2"/><circle cx="1292.5" cy="268.3" r="5.2"/><circle cx="1298.6" cy="269.6" r="5.2"/><circle cx="1320.3" cy="271.8" r="5.2"/><circle cx="1332.0" cy="279.6" r="5.2"/><circle cx="1304.7" cy="277.9" r="5.2"/><circle cx="1322.0" cy="283.0" r="5.2"/><circle cx="1300.4" cy="285.7" r="5.2"/><circle cx="1310.8" cy="283.1" r="5.2"/><circle cx="1304.7" cy="292.6" r="5.2"/><circle cx="1315.1" cy="293.5" r="5.2"/><circle cx="1309.0" cy="288.3" r="5.2"/><circle cx="1324.2" cy="300.0" r="5.2"/><circle cx="1312.0" cy="268.0" r="5.2"/><circle cx="1312.0" cy="257.0" r="5.2"/><circle cx="1305.0" cy="262.0" r="5.2"/><circle cx="1316.0" cy="276.0" r="5.2"/><circle cx="1327.0" cy="290.0" r="5.2"/><circle cx="1311.0" cy="243.0" r="5.2"/><circle cx="1300.0" cy="255.0" r="5.2"/><circle cx="1318.0" cy="262.0" r="5.2"/><circle cx="1290.0" cy="258.0" r="5.2"/><circle cx="1326.0" cy="268.0" r="5.2"/><circle cx="1308.0" cy="272.0" r="5.2"/><circle cx="1295.0" cy="276.0" r="5.2"/><circle cx="1316.0" cy="287.0" r="5.2"/><circle cx="1303.0" cy="297.0" r="5.2"/><circle cx="1320.0" cy="293.0" r="5.2"/><circle cx="1325.0" cy="245.0" r="5.2"/><circle cx="1302.0" cy="243.0" r="5.2"/></g>
<g fill="#000"><rect x="1408.4" y="107.8" width="10.4" height="10.4"/><rect x="1413.2" y="122.8" width="10.4" height="10.4"/><rect x="1403.9" y="127.2" width="10.4" height="10.4"/><rect x="1418.0" y="138.4" width="10.4" height="10.4"/><rect x="1408.8" y="138.4" width="10.4" height="10.4"/><rect x="1404.2" y="149.7" width="10.4" height="10.4"/><rect x="1414.8" y="158.3" width="10.4" height="10.4"/><rect x="1396.9" y="164.8" width="10.4" height="10.4"/><rect x="1433.3" y="166.2" width="10.4" height="10.4"/><rect x="1387.6" y="171.5" width="10.4" height="10.4"/><rect x="1381.7" y="178.1" width="10.4" height="10.4"/><rect x="1392.3" y="179.4" width="10.4" height="10.4"/><rect x="1402.8" y="174.1" width="10.4" height="10.4"/><rect x="1438.5" y="178.8" width="10.4" height="10.4"/><rect x="1413.4" y="176.8" width="10.4" height="10.4"/><rect x="1424.0" y="175.4" width="10.4" height="10.4"/><rect x="1393.6" y="187.3" width="10.4" height="10.4"/><rect x="1401.5" y="192.6" width="10.4" height="10.4"/><rect x="1420.0" y="190.0" width="10.4" height="10.4"/><rect x="1429.3" y="192.6" width="10.4" height="10.4"/><rect x="1412.1" y="197.9" width="10.4" height="10.4"/><rect x="1422.7" y="205.8" width="10.4" height="10.4"/><rect x="1398.9" y="211.1" width="10.4" height="10.4"/><rect x="1409.5" y="213.8" width="10.4" height="10.4"/><rect x="1408.1" y="219.1" width="10.4" height="10.4"/><rect x="1408.1" y="231.0" width="10.4" height="10.4"/><rect x="1412.8" y="243.5" width="10.4" height="10.4"/><rect x="1410.8" y="166.8" width="10.4" height="10.4"/><rect x="1420.8" y="162.8" width="10.4" height="10.4"/><rect x="1406.8" y="184.8" width="10.4" height="10.4"/><rect x="1414.8" y="144.8" width="10.4" height="10.4"/><rect x="1426.8" y="182.8" width="10.4" height="10.4"/></g>
<line x1="1278.60" y1="263.20" x2="1346.50" y2="263.20" stroke="#000" stroke-width="3" stroke-linecap="butt"/>
<line x1="1312.00" y1="242.50" x2="1312.00" y2="284.00" stroke="#000" stroke-width="3" stroke-linecap="butt"/>
<line x1="1292.00" y1="242.50" x2="1332.00" y2="242.50" stroke="#000" stroke-width="3" stroke-linecap="butt"/>
<line x1="1292.00" y1="284.00" x2="1332.00" y2="284.00" stroke="#000" stroke-width="3" stroke-linecap="butt"/>
<line x1="1383.40" y1="182.50" x2="1451.30" y2="182.50" stroke="#000" stroke-width="3" stroke-linecap="butt"/>
<line x1="1416.40" y1="153.20" x2="1416.40" y2="212.00" stroke="#000" stroke-width="3" stroke-linecap="butt"/>
<line x1="1399.50" y1="153.20" x2="1433.50" y2="153.20" stroke="#000" stroke-width="3" stroke-linecap="butt"/>
<line x1="1399.50" y1="212.00" x2="1433.50" y2="212.00" stroke="#000" stroke-width="3" stroke-linecap="butt"/>
<rect x="12.40" y="491.10" width="527.00" height="85.50" fill="#3a5aab" stroke="none" stroke-width="0" />
<rect x="545.30" y="491.10" width="948.50" height="85.50" fill="#3a5aab" stroke="none" stroke-width="0" />
<rect x="12.40" y="582.50" width="527.00" height="129.50" fill="#c5d1f0" stroke="none" stroke-width="0" />
<rect x="545.30" y="582.50" width="948.50" height="129.50" fill="#c5d1f0" stroke="none" stroke-width="0" />
<text x="1019.5" y="523.3" font-size="34.4" text-anchor="middle" font-weight="bold" fill="#fff" >Predicted consequential pairing of target region (top) and</text>
<text x="1019.5" y="563.8" font-size="34.4" text-anchor="middle" font-weight="bold" fill="#fff" >miRNA (bottom)</text>
<text x="13.8" y="620.4" font-size="34.5" text-anchor="start" fill="#1a1a1a" >Position 222-228 of CLIC1 3' UTR</text>
<text x="14.4" y="697.5" font-size="34.5" text-anchor="start" fill="#4a72bd" >hsa-miR-556-3p</text>
<rect x="983.80" y="586.40" width="131.80" height="39.70" fill="#fff" stroke="none" stroke-width="0" />
<rect x="983.80" y="668.20" width="112.70" height="40.10" fill="#fff" stroke="none" stroke-width="0" />
<text x="551.1" y="618.1" style="font-family:'Liberation Mono', monospace" font-size="31.3" fill="#1a1410" stroke="#1a1410" stroke-width="0.2" textLength="37.6" lengthAdjust="spacingAndGlyphs">5'</text>
<text x="551.1" y="698.3" style="font-family:'Liberation Mono', monospace" font-size="31.3" fill="#1a1410" stroke="#1a1410" stroke-width="0.2" textLength="37.6" lengthAdjust="spacingAndGlyphs">3'</text>
<text x="644.7" y="618.1" style="font-family:'Liberation Mono', monospace" font-size="31.3" fill="#1a1410" stroke="#1a1410" stroke-width="0.2" textLength="545.2" lengthAdjust="spacingAndGlyphs">...GGACAACAUAUUUCAGUAAUAAA...</text>
<text x="700.6" y="698.3" style="font-family:'Liberation Mono', monospace" font-size="31.3" fill="#1a1410" stroke="#1a1410" stroke-width="0.2" textLength="413.6" lengthAdjust="spacingAndGlyphs">UUUCUACUCGAUUACCAUUAUA</text>
<line x1="993.20" y1="632.30" x2="993.20" y2="666.40" stroke="#1a1410" stroke-width="2.6" stroke-linecap="butt"/>
<line x1="1012.00" y1="632.30" x2="1012.00" y2="666.40" stroke="#1a1410" stroke-width="2.6" stroke-linecap="butt"/>
<line x1="1030.80" y1="632.30" x2="1030.80" y2="666.40" stroke="#1a1410" stroke-width="2.6" stroke-linecap="butt"/>
<line x1="1049.60" y1="632.30" x2="1049.60" y2="666.40" stroke="#1a1410" stroke-width="2.6" stroke-linecap="butt"/>
<line x1="1068.40" y1="632.30" x2="1068.40" y2="666.40" stroke="#1a1410" stroke-width="2.6" stroke-linecap="butt"/>
<line x1="1087.20" y1="632.30" x2="1087.20" y2="666.40" stroke="#1a1410" stroke-width="2.6" stroke-linecap="butt"/>
<line x1="85.10" y1="882.10" x2="85.10" y2="1172.30" stroke="#000" stroke-width="2.6" stroke-linecap="butt"/>
<line x1="83.80" y1="1171.00" x2="374.80" y2="1171.00" stroke="#000" stroke-width="2.6" stroke-linecap="butt"/>
<line x1="73.40" y1="1171.00" x2="85.10" y2="1171.00" stroke="#000" stroke-width="2.6" stroke-linecap="butt"/>
<text transform="translate(70.0 1178.9) scale(0.97 1)" font-size="22.5" text-anchor="end">0.0</text>
<line x1="73.40" y1="1075.10" x2="85.10" y2="1075.10" stroke="#000" stroke-width="2.6" stroke-linecap="butt"/>
<text transform="translate(70.0 1083.0) scale(0.97 1)" font-size="22.5" text-anchor="end">0.5</text>
<line x1="73.40" y1="979.20" x2="85.10" y2="979.20" stroke="#000" stroke-width="2.6" stroke-linecap="butt"/>
<text transform="translate(70.0 987.1) scale(0.97 1)" font-size="22.5" text-anchor="end">1.0</text>
<line x1="73.40" y1="883.30" x2="85.10" y2="883.30" stroke="#000" stroke-width="2.6" stroke-linecap="butt"/>
<text transform="translate(70.0 891.2) scale(0.97 1)" font-size="22.5" text-anchor="end">1.5</text>
<line x1="153.20" y1="1171.00" x2="153.20" y2="1182.00" stroke="#000" stroke-width="2.6" stroke-linecap="butt"/>
<line x1="304.80" y1="1171.00" x2="304.80" y2="1182.00" stroke="#000" stroke-width="2.6" stroke-linecap="butt"/>
<text transform="translate(152.2 1205.4) scale(0.96 1)" font-size="22.4" text-anchor="middle">wt-CLIC1</text>
<text transform="translate(306.8 1205.4) scale(0.96 1)" font-size="22.4" text-anchor="middle">Mut-CLIC1</text>
<text transform="translate(27.4 1027.0) rotate(-90)" font-size="23.2" text-anchor="middle">Relative luciferase activity</text>
<rect x="100.50" y="773.90" width="28.10" height="12.00" fill="url(#pfine)" stroke="#000" stroke-width="2.4" />
<text x="146.4" y="787.3" font-size="23.7" text-anchor="start" fill="#000" >miR-NC</text>
<rect x="100.50" y="812.40" width="28.10" height="12.00" fill="url(#pcheck)" stroke="#000" stroke-width="2.4" />
<text x="146.4" y="825.8" font-size="23.7" text-anchor="start" fill="#000" >miR-556-3p mimic</text>
<rect x="105.90" y="981.90" width="35.50" height="189.10" fill="url(#pfine)" stroke="#000" stroke-width="2.6" />
<line x1="123.65" y1="980.60" x2="123.65" y2="973.30" stroke="#000" stroke-width="2.6" stroke-linecap="butt"/>
<line x1="113.65" y1="973.30" x2="133.65" y2="973.30" stroke="#000" stroke-width="2.6" stroke-linecap="butt"/>
<rect x="164.20" y="1109.50" width="35.10" height="61.50" fill="url(#pcheck)" stroke="#000" stroke-width="2.6" />
<line x1="181.75" y1="1108.20" x2="181.75" y2="1101.00" stroke="#000" stroke-width="2.6" stroke-linecap="butt"/>
<line x1="171.75" y1="1101.00" x2="191.75" y2="1101.00" stroke="#000" stroke-width="2.6" stroke-linecap="butt"/>
<rect x="259.90" y="983.90" width="34.60" height="187.10" fill="url(#pfine)" stroke="#000" stroke-width="2.6" />
<line x1="277.20" y1="982.60" x2="277.20" y2="959.90" stroke="#000" stroke-width="2.6" stroke-linecap="butt"/>
<line x1="267.20" y1="959.90" x2="287.20" y2="959.90" stroke="#000" stroke-width="2.6" stroke-linecap="butt"/>
<rect x="318.20" y="988.80" width="34.30" height="182.20" fill="url(#pcheck)" stroke="#000" stroke-width="2.6" />
<line x1="335.35" y1="987.50" x2="335.35" y2="977.70" stroke="#000" stroke-width="2.6" stroke-linecap="butt"/>
<line x1="325.35" y1="977.70" x2="345.35" y2="977.70" stroke="#000" stroke-width="2.6" stroke-linecap="butt"/>
<line x1="123.70" y1="947.00" x2="181.20" y2="947.00" stroke="#000" stroke-width="4.5" stroke-linecap="butt"/>
<line x1="123.70" y1="934.10" x2="123.70" y2="959.90" stroke="#000" stroke-width="4.5" stroke-linecap="butt"/>
<line x1="181.20" y1="934.10" x2="181.20" y2="959.90" stroke="#000" stroke-width="4.5" stroke-linecap="butt"/>
<text x="153.0" y="934.5" font-size="24.5" text-anchor="middle" fill="#000" letter-spacing="1.2">***</text>
<line x1="491.30" y1="884.10" x2="491.30" y2="1172.90" stroke="#000" stroke-width="2.7" stroke-linecap="butt"/>
<line x1="490.00" y1="1171.60" x2="925.40" y2="1171.60" stroke="#000" stroke-width="2.7" stroke-linecap="butt"/>
<line x1="479.20" y1="1171.60" x2="491.30" y2="1171.60" stroke="#000" stroke-width="2.6" stroke-linecap="butt"/>
<text transform="translate(476.7 1179.5) scale(0.97 1)" font-size="22.5" text-anchor="end">0.0</text>
<line x1="479.20" y1="1099.72" x2="491.30" y2="1099.72" stroke="#000" stroke-width="2.6" stroke-linecap="butt"/>
<text transform="translate(476.7 1107.6) scale(0.97 1)" font-size="22.5" text-anchor="end">0.5</text>
<line x1="479.20" y1="1027.85" x2="491.30" y2="1027.85" stroke="#000" stroke-width="2.6" stroke-linecap="butt"/>
<text transform="translate(476.7 1035.8) scale(0.97 1)" font-size="22.5" text-anchor="end">1.0</text>
<line x1="479.20" y1="955.98" x2="491.30" y2="955.98" stroke="#000" stroke-width="2.6" stroke-linecap="butt"/>
<text transform="translate(476.7 963.9) scale(0.97 1)" font-size="22.5" text-anchor="end">1.5</text>
<line x1="479.20" y1="884.10" x2="491.30" y2="884.10" stroke="#000" stroke-width="2.6" stroke-linecap="butt"/>
<text transform="translate(476.7 892.0) scale(0.97 1)" font-size="22.5" text-anchor="end">2.0</text>
<line x1="594.50" y1="1171.60" x2="594.50" y2="1184.00" stroke="#000" stroke-width="2.6" stroke-linecap="butt"/>
<line x1="818.50" y1="1171.60" x2="818.50" y2="1184.00" stroke="#000" stroke-width="2.6" stroke-linecap="butt"/>
<text transform="translate(588.9 1206.1) scale(0.96 1)" font-size="22.4" text-anchor="middle">SNU-1</text>
<text transform="translate(832.4 1206.1) scale(0.96 1)" font-size="22.4" text-anchor="middle">NCI-N87</text>
<text transform="translate(434.2 1029.1) rotate(-90) scale(0.972 1)" font-size="23.8" text-anchor="middle">Relative expression of CLIC1</text>
<rect x="500.70" y="730.50" width="28.10" height="12.00" fill="url(#pfine)" stroke="#000" stroke-width="2.4" />
<text x="547.8" y="743.9" font-size="23.4" text-anchor="start" fill="#000" >si-NC</text>
<rect x="500.70" y="769.40" width="28.10" height="12.00" fill="url(#pcheck)" stroke="#000" stroke-width="2.4" />
<text x="547.8" y="782.8" font-size="23.4" text-anchor="start" fill="#000" >si-KCNQ1OT1</text>
<rect x="500.70" y="808.30" width="28.10" height="12.00" fill="url(#phstripe)" stroke="#000" stroke-width="2.4" />
<text x="547.8" y="821.7" font-size="23.4" text-anchor="start" fill="#000" >si-KCNQ1OT1 + inhibitor NC</text>
<rect x="500.70" y="847.20" width="28.10" height="12.00" fill="url(#pvstripe)" stroke="#000" stroke-width="2.4" />
<text x="547.8" y="860.6" font-size="23.4" text-anchor="start" fill="#000" >si-KCNQ1OT1 + miR-556-3p inhibitor</text>
<rect x="509.00" y="1029.60" width="28.90" height="142.00" fill="url(#pfine)" stroke="#000" stroke-width="2.6" />
<line x1="523.45" y1="1028.30" x2="523.45" y2="1013.10" stroke="#000" stroke-width="2.6" stroke-linecap="butt"/>
<line x1="515.45" y1="1013.10" x2="531.45" y2="1013.10" stroke="#000" stroke-width="2.6" stroke-linecap="butt"/>
<rect x="556.90" y="1145.10" width="29.00" height="26.50" fill="url(#pcheck)" stroke="#000" stroke-width="2.6" />
<line x1="571.40" y1="1143.80" x2="571.40" y2="1136.00" stroke="#000" stroke-width="2.6" stroke-linecap="butt"/>
<line x1="563.40" y1="1136.00" x2="579.40" y2="1136.00" stroke="#000" stroke-width="2.6" stroke-linecap="butt"/>
<rect x="605.30" y="1143.00" width="28.90" height="28.60" fill="url(#phstripe)" stroke="#000" stroke-width="2.6" />
<line x1="619.75" y1="1141.70" x2="619.75" y2="1138.90" stroke="#000" stroke-width="2.6" stroke-linecap="butt"/>
<line x1="611.75" y1="1138.90" x2="627.75" y2="1138.90" stroke="#000" stroke-width="2.6" stroke-linecap="butt"/>
<rect x="652.70" y="991.90" width="29.40" height="179.70" fill="url(#pvstripe)" stroke="#000" stroke-width="2.6" />
<line x1="667.40" y1="990.60" x2="667.40" y2="963.30" stroke="#000" stroke-width="2.6" stroke-linecap="butt"/>
<line x1="659.40" y1="963.30" x2="675.40" y2="963.30" stroke="#000" stroke-width="2.6" stroke-linecap="butt"/>
<rect x="733.00" y="1028.80" width="29.00" height="142.80" fill="url(#pfine)" stroke="#000" stroke-width="2.6" />
<line x1="747.50" y1="1027.50" x2="747.50" y2="1019.30" stroke="#000" stroke-width="2.6" stroke-linecap="butt"/>
<line x1="739.50" y1="1019.30" x2="755.50" y2="1019.30" stroke="#000" stroke-width="2.6" stroke-linecap="butt"/>
<rect x="780.90" y="1136.10" width="28.60" height="35.50" fill="url(#pcheck)" stroke="#000" stroke-width="2.6" />
<line x1="795.20" y1="1134.80" x2="795.20" y2="1129.90" stroke="#000" stroke-width="2.6" stroke-linecap="butt"/>
<line x1="787.20" y1="1129.90" x2="803.20" y2="1129.90" stroke="#000" stroke-width="2.6" stroke-linecap="butt"/>
<rect x="828.40" y="1139.30" width="29.00" height="32.30" fill="url(#phstripe)" stroke="#000" stroke-width="2.6" />
<line x1="842.90" y1="1138.00" x2="842.90" y2="1129.90" stroke="#000" stroke-width="2.6" stroke-linecap="butt"/>
<line x1="834.90" y1="1129.90" x2="850.90" y2="1129.90" stroke="#000" stroke-width="2.6" stroke-linecap="butt"/>
<rect x="876.40" y="1019.80" width="28.90" height="151.80" fill="url(#pvstripe)" stroke="#000" stroke-width="2.6" />
<line x1="890.85" y1="1018.50" x2="890.85" y2="982.00" stroke="#000" stroke-width="2.6" stroke-linecap="butt"/>
<line x1="882.85" y1="982.00" x2="898.85" y2="982.00" stroke="#000" stroke-width="2.6" stroke-linecap="butt"/>
<line x1="523.20" y1="986.80" x2="571.30" y2="986.80" stroke="#000" stroke-width="4.5" stroke-linecap="butt"/>
<line x1="523.20" y1="973.80" x2="523.20" y2="999.70" stroke="#000" stroke-width="4.5" stroke-linecap="butt"/>
<line x1="571.30" y1="973.80" x2="571.30" y2="999.70" stroke="#000" stroke-width="4.5" stroke-linecap="butt"/>
<text x="547.9" y="978.1" font-size="24.5" text-anchor="middle" fill="#000" letter-spacing="1.2">***</text>
<line x1="619.00" y1="940.70" x2="667.50" y2="940.70" stroke="#000" stroke-width="4.5" stroke-linecap="butt"/>
<line x1="619.00" y1="928.10" x2="619.00" y2="953.70" stroke="#000" stroke-width="4.5" stroke-linecap="butt"/>
<line x1="667.50" y1="928.10" x2="667.50" y2="953.70" stroke="#000" stroke-width="4.5" stroke-linecap="butt"/>
<text x="643.9" y="933.0" font-size="24.5" text-anchor="middle" fill="#000" letter-spacing="1.2">***</text>
<line x1="746.20" y1="996.60" x2="794.30" y2="996.60" stroke="#000" stroke-width="4.5" stroke-linecap="butt"/>
<line x1="746.20" y1="984.20" x2="746.20" y2="1009.70" stroke="#000" stroke-width="4.5" stroke-linecap="butt"/>
<line x1="794.30" y1="984.20" x2="794.30" y2="1009.70" stroke="#000" stroke-width="4.5" stroke-linecap="butt"/>
<text x="770.9" y="986.5" font-size="24.5" text-anchor="middle" fill="#000" letter-spacing="1.2">***</text>
<line x1="842.30" y1="958.60" x2="890.00" y2="958.60" stroke="#000" stroke-width="4.5" stroke-linecap="butt"/>
<line x1="842.30" y1="945.70" x2="842.30" y2="971.20" stroke="#000" stroke-width="4.5" stroke-linecap="butt"/>
<line x1="890.00" y1="945.70" x2="890.00" y2="971.20" stroke="#000" stroke-width="4.5" stroke-linecap="butt"/>
<text x="866.8" y="949.0" font-size="24.5" text-anchor="middle" fill="#000" letter-spacing="1.2">***</text>
<line x1="1061.00" y1="887.00" x2="1061.00" y2="1175.80" stroke="#000" stroke-width="2.7" stroke-linecap="butt"/>
<line x1="1059.40" y1="1174.50" x2="1496.00" y2="1174.50" stroke="#000" stroke-width="2.6" stroke-linecap="butt"/>
<line x1="1049.20" y1="1174.50" x2="1061.00" y2="1174.50" stroke="#000" stroke-width="2.6" stroke-linecap="butt"/>
<text transform="translate(1045.8 1182.4) scale(0.97 1)" font-size="22.5" text-anchor="end">0.0</text>
<line x1="1049.20" y1="1078.93" x2="1061.00" y2="1078.93" stroke="#000" stroke-width="2.6" stroke-linecap="butt"/>
<text transform="translate(1045.8 1086.8) scale(0.97 1)" font-size="22.5" text-anchor="end">0.5</text>
<line x1="1049.20" y1="983.37" x2="1061.00" y2="983.37" stroke="#000" stroke-width="2.6" stroke-linecap="butt"/>
<text transform="translate(1045.8 991.3) scale(0.97 1)" font-size="22.5" text-anchor="end">1.0</text>
<line x1="1049.20" y1="887.80" x2="1061.00" y2="887.80" stroke="#000" stroke-width="2.6" stroke-linecap="butt"/>
<text transform="translate(1045.8 895.7) scale(0.97 1)" font-size="22.5" text-anchor="end">1.5</text>
<line x1="1165.10" y1="1174.50" x2="1165.10" y2="1186.00" stroke="#000" stroke-width="2.6" stroke-linecap="butt"/>
<line x1="1388.30" y1="1174.50" x2="1388.30" y2="1186.00" stroke="#000" stroke-width="2.6" stroke-linecap="butt"/>
<text transform="translate(1155.6 1209.0) scale(0.96 1)" font-size="22.4" text-anchor="middle">SNU-1</text>
<text transform="translate(1398.2 1209.0) scale(0.96 1)" font-size="22.4" text-anchor="middle">NCI-N87</text>
<text transform="translate(971.5 1031) rotate(-90)" font-size="22.6" text-anchor="middle">Relative protein</text>
<text transform="translate(999.3 1031.7) rotate(-90)" font-size="22.9" text-anchor="middle">expression of CLIC1</text>
<rect x="1055.70" y="730.50" width="28.10" height="12.00" fill="url(#pfine)" stroke="#000" stroke-width="2.4" />
<text x="1102.4" y="743.9" font-size="23.5" text-anchor="start" fill="#000" >si-NC</text>
<rect x="1055.70" y="769.40" width="28.10" height="12.00" fill="url(#pcheck)" stroke="#000" stroke-width="2.4" />
<text x="1102.4" y="782.8" font-size="23.5" text-anchor="start" fill="#000" >si-KCNQ1OT1</text>
<rect x="1055.70" y="808.30" width="28.10" height="12.00" fill="url(#phstripe)" stroke="#000" stroke-width="2.4" />
<text x="1102.4" y="821.7" font-size="23.5" text-anchor="start" fill="#000" >si-KCNQ1OT1 + inhibitor NC</text>
<rect x="1055.70" y="847.20" width="28.10" height="12.00" fill="url(#pvstripe)" stroke="#000" stroke-width="2.4" />
<text x="1102.4" y="860.6" font-size="23.5" text-anchor="start" fill="#000" >si-KCNQ1OT1 + miR-556-3p inhibitor</text>
<rect x="1078.30" y="953.00" width="29.00" height="221.50" fill="url(#pfine)" stroke="#000" stroke-width="2.6" />
<line x1="1092.80" y1="951.70" x2="1092.80" y2="942.30" stroke="#000" stroke-width="2.6" stroke-linecap="butt"/>
<line x1="1084.80" y1="942.30" x2="1100.80" y2="942.30" stroke="#000" stroke-width="2.6" stroke-linecap="butt"/>
<rect x="1126.30" y="1104.50" width="28.50" height="70.00" fill="url(#pcheck)" stroke="#000" stroke-width="2.6" />
<line x1="1140.55" y1="1103.20" x2="1140.55" y2="1095.90" stroke="#000" stroke-width="2.6" stroke-linecap="butt"/>
<line x1="1132.55" y1="1095.90" x2="1148.55" y2="1095.90" stroke="#000" stroke-width="2.6" stroke-linecap="butt"/>
<rect x="1174.60" y="1111.50" width="28.10" height="63.00" fill="url(#phstripe)" stroke="#000" stroke-width="2.6" />
<line x1="1188.65" y1="1110.20" x2="1188.65" y2="1101.20" stroke="#000" stroke-width="2.6" stroke-linecap="butt"/>
<line x1="1180.65" y1="1101.20" x2="1196.65" y2="1101.20" stroke="#000" stroke-width="2.6" stroke-linecap="butt"/>
<rect x="1222.50" y="923.10" width="28.50" height="251.40" fill="url(#pvstripe)" stroke="#000" stroke-width="2.6" />
<line x1="1236.75" y1="921.80" x2="1236.75" y2="911.60" stroke="#000" stroke-width="2.6" stroke-linecap="butt"/>
<line x1="1228.75" y1="911.60" x2="1244.75" y2="911.60" stroke="#000" stroke-width="2.6" stroke-linecap="butt"/>
<rect x="1301.50" y="1010.30" width="29.00" height="164.20" fill="url(#pfine)" stroke="#000" stroke-width="2.6" />
<line x1="1316.00" y1="1009.00" x2="1316.00" y2="996.80" stroke="#000" stroke-width="2.6" stroke-linecap="butt"/>
<line x1="1308.00" y1="996.80" x2="1324.00" y2="996.80" stroke="#000" stroke-width="2.6" stroke-linecap="butt"/>
<rect x="1349.90" y="1132.00" width="28.90" height="42.50" fill="url(#pcheck)" stroke="#000" stroke-width="2.6" />
<line x1="1364.35" y1="1130.70" x2="1364.35" y2="1124.50" stroke="#000" stroke-width="2.6" stroke-linecap="butt"/>
<line x1="1356.35" y1="1124.50" x2="1372.35" y2="1124.50" stroke="#000" stroke-width="2.6" stroke-linecap="butt"/>
<rect x="1397.80" y="1135.30" width="28.90" height="39.20" fill="url(#phstripe)" stroke="#000" stroke-width="2.6" />
<line x1="1412.25" y1="1134.00" x2="1412.25" y2="1127.40" stroke="#000" stroke-width="2.6" stroke-linecap="butt"/>
<line x1="1404.25" y1="1127.40" x2="1420.25" y2="1127.40" stroke="#000" stroke-width="2.6" stroke-linecap="butt"/>
<rect x="1446.10" y="982.50" width="29.00" height="192.00" fill="url(#pvstripe)" stroke="#000" stroke-width="2.6" />
<line x1="1460.60" y1="981.20" x2="1460.60" y2="951.70" stroke="#000" stroke-width="2.6" stroke-linecap="butt"/>
<line x1="1452.60" y1="951.70" x2="1468.60" y2="951.70" stroke="#000" stroke-width="2.6" stroke-linecap="butt"/>
<line x1="1092.90" y1="922.20" x2="1140.90" y2="922.20" stroke="#000" stroke-width="4.5" stroke-linecap="butt"/>
<line x1="1092.90" y1="909.60" x2="1092.90" y2="934.80" stroke="#000" stroke-width="4.5" stroke-linecap="butt"/>
<line x1="1140.90" y1="909.60" x2="1140.90" y2="934.80" stroke="#000" stroke-width="4.5" stroke-linecap="butt"/>
<text x="1117.5" y="913.0" font-size="24.5" text-anchor="middle" fill="#000" letter-spacing="1.2">***</text>
<line x1="1188.80" y1="890.60" x2="1237.00" y2="890.60" stroke="#000" stroke-width="4.5" stroke-linecap="butt"/>
<line x1="1188.80" y1="878.00" x2="1188.80" y2="903.30" stroke="#000" stroke-width="4.5" stroke-linecap="butt"/>
<line x1="1237.00" y1="878.00" x2="1237.00" y2="903.30" stroke="#000" stroke-width="4.5" stroke-linecap="butt"/>
<text x="1213.5" y="883.0" font-size="24.5" text-anchor="middle" fill="#000" letter-spacing="1.2">***</text>
<line x1="1315.60" y1="976.90" x2="1364.10" y2="976.90" stroke="#000" stroke-width="4.5" stroke-linecap="butt"/>
<line x1="1315.60" y1="964.00" x2="1315.60" y2="989.90" stroke="#000" stroke-width="4.5" stroke-linecap="butt"/>
<line x1="1364.10" y1="964.00" x2="1364.10" y2="989.90" stroke="#000" stroke-width="4.5" stroke-linecap="butt"/>
<text x="1340.4" y="966.0" font-size="24.5" text-anchor="middle" fill="#000" letter-spacing="1.2">***</text>
<line x1="1411.60" y1="930.00" x2="1459.70" y2="930.00" stroke="#000" stroke-width="4.5" stroke-linecap="butt"/>
<line x1="1411.60" y1="917.10" x2="1411.60" y2="942.90" stroke="#000" stroke-width="4.5" stroke-linecap="butt"/>
<line x1="1459.70" y1="917.10" x2="1459.70" y2="942.90" stroke="#000" stroke-width="4.5" stroke-linecap="butt"/>
<text x="1436.2" y="919.5" font-size="24.5" text-anchor="middle" fill="#000" letter-spacing="1.2">***</text>
</svg>
</body></html>
